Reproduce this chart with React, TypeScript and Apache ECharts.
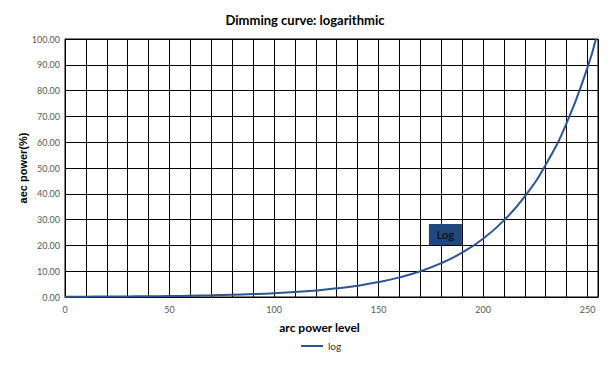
import React, { useEffect, useRef } from "react";
import * as echarts from "echarts";

const levels = [0, 10, 20, 30, 40, 50, 60, 70, 80, 90, 100, 110, 120, 130, 140, 150, 160, 170, 180, 190, 200, 210, 220, 230, 240, 250, 254];
const logValues = [0.1, 0.13, 0.17, 0.22, 0.29, 0.38, 0.5, 0.65, 0.86, 1.13, 1.48, 1.94, 2.55, 3.35, 4.4, 5.8, 7.6, 10.0, 13.1, 17.2, 22.6, 29.7, 39.0, 51.3, 67.4, 89.0, 100];
const seriesName = "log";
const annotation = { text: "Log", x: 182, y: 24.2 };

const FONT = "Lato, 'Open Sans', sans-serif";

export default function App() {
  const ref = useRef<HTMLDivElement>(null);
  useEffect(() => {
    if (!ref.current) return;
    const chart = echarts.init(ref.current, null, { renderer: "svg" });
    chart.setOption({
      animation: false,
      backgroundColor: "#ffffff",
      textStyle: { fontFamily: FONT },
      title: {
        text: "Dimming curve: logarithmic",
        left: "center",
        top: 8,
        textStyle: { fontSize: 13, fontWeight: "bold", color: "#000", fontFamily: FONT },
      },
      grid: { left: 65, right: 12, top: 39, bottom: 71, show: true, borderColor: "#000", borderWidth: 1 },
      legend: {
        bottom: 12,
        left: 295,
        data: [seriesName],
        itemWidth: 22,
        itemHeight: 2,
        itemGap: 4,
        textStyle: { fontSize: 10, color: "#333", fontFamily: FONT },
      },
      xAxis: {
        type: "value",
        min: 0,
        max: 255,
        interval: 10,
        name: "arc power level",
        nameLocation: "middle",
        nameGap: 24,
        nameMoveOverlap: false,
        nameTextStyle: { fontSize: 12, fontWeight: "bold", color: "#000", fontFamily: FONT, padding: [0, 24, 0, 0] },
        axisLine: { show: true, lineStyle: { color: "#000", width: 1 } },
        axisTick: { show: false },
        splitLine: { show: true, lineStyle: { color: "#000", width: 1 } },
        axisLabel: {
          fontSize: 9,
          color: "#595959",
          margin: 8,
          showMaxLabel: false,
          formatter: (v: number) => (v % 50 === 0 ? String(v) : ""),
        },
      },
      yAxis: {
        type: "value",
        min: 0,
        max: 100,
        interval: 10,
        name: "aec power(%)",
        nameLocation: "middle",
        nameGap: 37,
        nameMoveOverlap: false,
        nameTextStyle: { fontSize: 11, fontWeight: "bold", color: "#000", fontFamily: "'Liberation Sans', Arial, sans-serif" },
        axisLine: { show: true, lineStyle: { color: "#000", width: 1 } },
        axisTick: { show: false },
        splitLine: { show: true, lineStyle: { color: "#000", width: 1 } },
        axisLabel: {
          fontSize: 9,
          color: "#595959",
          margin: 5,
          formatter: (v: number) => v.toFixed(2),
        },
      },
      series: [
        {
          name: seriesName,
          type: "line",
          smooth: true,
          symbol: "none",
          data: levels.map((l, i) => [l, logValues[i]]),
          lineStyle: { color: "#2C5592", width: 2 },
          itemStyle: { color: "#2C5592" },
          markPoint: {
            symbol: "rect",
            symbolSize: [33, 21],
            itemStyle: { color: "#1F497D" },
            label: { show: true, color: "#000", fontSize: 11, fontFamily: FONT, formatter: annotation.text },
            data: [{ coord: [annotation.x, annotation.y], value: annotation.text }],
          },
        },
      ],
    });
    return () => chart.dispose();
  }, []);
  return <div ref={ref} style={{ width: 610, height: 368, position: "absolute", left: 0, top: 0 }} />;
}
